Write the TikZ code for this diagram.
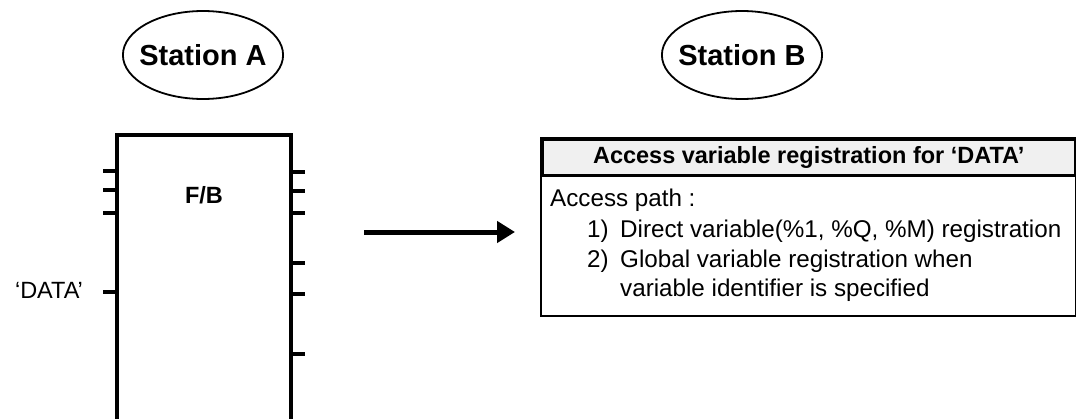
\documentclass[tikz,border=0pt]{standalone}
\usepackage{fontspec}
\setmainfont{Liberation Sans}
\usetikzlibrary{arrows.meta,shapes.geometric}

\newcommand\bodysize{\fontsize{24.2}{29}\selectfont}
\newcommand\headsize{\fontsize{23.5}{28}\selectfont}

\begin{document}
\begin{tikzpicture}[
        x=1pt, y=-1pt,
        station/.style={ellipse, draw, line width=1.8pt, minimum width=160pt, minimum height=88pt,
            inner xsep=-7pt, font=\fontsize{29}{34}\selectfont\bfseries},
        block/.style={draw, line width=4pt, minimum width=174pt, minimum height=286pt, anchor=north west},
        pin/.style={line width=4.5pt},
        pintext/.style={font=\headsize},
        flow/.style={-{Triangle[length=18pt,width=21pt]}, line width=5pt},
        hdr/.style={draw, fill=black!6, line width=2.5pt, minimum width=533pt, minimum height=36pt,
            anchor=north west, inner sep=0pt, font=\headsize\bfseries},
        frame/.style={draw, line width=2.5pt},
        txt/.style={anchor=base west, inner sep=0pt, font=\bodysize}
    ]
        \useasboundingbox (0,0) rectangle (1076,418);

        % Stations
        \node[station] (sta) at (203,55) {Station A};
        \node[station] (stb) at (742,55) {Station B};

        % Function block of station A
        \node[block] (fb) at (115,133) {};
        \node[font=\headsize\bfseries] (fbname) at (204,195) {F/B};
        \foreach \y in {171,190,213,292}
            \draw[pin] (fb.west |- 0,\y) -- ++(-12,0);
        \foreach \y in {172,191,213,263,294,354}
            \draw[pin] (fb.east |- 0,\y) -- ++(12,0);
        \node[pintext] (dataname) at (49,290) {‘DATA’};

        % Transfer
        \coordinate (src) at (364,232);
        \coordinate (dst) at (515,232);
        \draw[flow] (src) -- (dst);

        % Registration table of station B
        \node[hdr] (reg) at (541,138) {Access variable registration for ‘DATA’};
        \draw[frame] (reg.north west) rectangle (reg.east |- 0,316);
        \node[txt] (path) at (550,206) {Access path :};
        \node[txt] (num1) at (587,237) {1)};
        \node[txt] (item1) at (620,237) {Direct variable(\%1, \%Q, \%M) registration};
        \node[txt] (num2) at (587,267) {2)};
        \node[txt] (item2) at (620,267) {Global variable registration when};
        \node[txt] (item2b) at (620,296) {variable identifier is specified};
    \end{tikzpicture}
\end{document}
